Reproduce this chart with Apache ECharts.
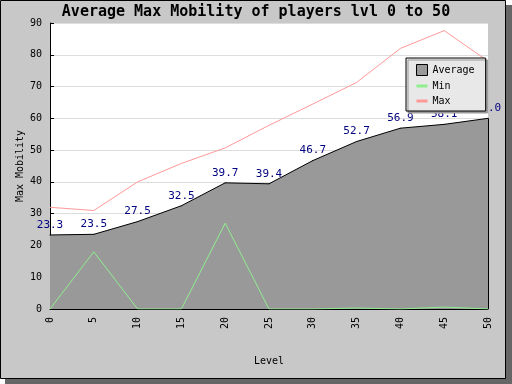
<!DOCTYPE html>
<html>
<head>
<meta charset="utf-8">
<script src="https://cdn.jsdelivr.net/npm/echarts@6/dist/echarts.min.js"></script>
<style>
html,body{margin:0;padding:0;background:#fff;}
#c{width:512px;height:384px;}
</style>
</head>
<body>
<div id="c"></div>
<script>
var levels = [0, 5, 10, 15, 20, 25, 30, 35, 40, 45, 50];
var averageVals = [23.3, 23.5, 27.5, 32.5, 39.7, 39.4, 46.7, 52.7, 56.9, 58.1, 60.0];
var minVals = [0, 18, 0, 0, 27, 0, 0, 0.3, 0, 0.6, 0];
var maxVals = [32, 31, 40, 45.8, 50.7, 57.8, 64.5, 71.3, 82, 87.6, 78];
var yTicks = [0, 10, 20, 30, 40, 50, 60, 70, 80, 90];

function pairs(vals) {
  return levels.map(function (l, i) { return [l, vals[i]]; });
}
var lastLevel = levels[levels.length - 1];
var lastAvg = averageVals[averageVals.length - 1];

var MONO = 'DejaVu Sans Mono';
var chart = echarts.init(document.getElementById('c'), null, {renderer: 'canvas'});
chart.setOption({
  animation: false,
  graphic: [
    {type: 'rect', shape: {x: 5, y: 5, width: 507, height: 379}, style: {fill: '#666666'}, z: -10, silent: true},
    {type: 'rect', shape: {x: 0.5, y: 0.5, width: 505, height: 378}, style: {fill: '#c8c8c8', stroke: '#000', lineWidth: 1}, z: -9, silent: true}
  ],
  title: {
    text: 'Average Max Mobility of players lvl 0 to 50',
    left: 'center',
    top: 5,
    padding: 0,
    textStyle: {fontFamily: MONO, fontWeight: 'bold', fontSize: 15, color: '#000'}
  },
  legend: {
    orient: 'vertical',
    left: 406,
    top: 58,
    padding: [6, 11, 5, 10],
    itemWidth: 11,
    itemHeight: 11,
    itemGap: 5,
    backgroundColor: '#e8e8e8',
    borderColor: '#000',
    borderWidth: 1,
    borderRadius: 0,
    shadowColor: '#999999',
    shadowOffsetX: 2,
    shadowOffsetY: 2,
    shadowBlur: 0,
    textStyle: {fontFamily: MONO, fontSize: 10, color: '#000'},
    data: [
      {name: 'Average', icon: 'rect', itemStyle: {color: '#999999', borderColor: '#000', borderWidth: 1}},
      {name: 'Min', icon: 'path://M0,0H11V3H0Z', itemStyle: {color: '#90ee90', borderWidth: 0}},
      {name: 'Max', icon: 'path://M0,0H11V3H0Z', itemStyle: {color: '#ff9999', borderWidth: 0}}
    ]
  },
  grid: {left: 50, right: 24, top: 23, bottom: 75, show: true, backgroundColor: '#fff', borderWidth: 0},
  xAxis: {
    type: 'value', min: 0, max: 50, interval: 5,
    name: 'Level', nameLocation: 'middle', nameGap: 47, nameMoveOverlap: false,
    nameTextStyle: {fontFamily: MONO, fontSize: 10, color: '#000'},
    axisLine: {show: true, onZero: false, lineStyle: {color: '#000', width: 1}},
    axisTick: {show: true, inside: true, length: 4, lineStyle: {color: '#000'}},
    axisLabel: {rotate: 90, margin: 8, fontFamily: MONO, fontSize: 10, color: '#000'},
    splitLine: {show: false}
  },
  yAxis: {
    type: 'value', min: 0, max: 90, interval: 10,
    name: 'Max Mobility', nameLocation: 'middle', nameGap: 25, nameMoveOverlap: false,
    nameTextStyle: {fontFamily: MONO, fontSize: 10, color: '#000'},
    axisLine: {show: true, lineStyle: {color: '#000', width: 1}},
    axisTick: {show: true, inside: true, length: 4, lineStyle: {color: '#000'}},
    axisLabel: {margin: 8, fontFamily: MONO, fontSize: 10, color: '#000',
      formatter: function (v) { return yTicks.indexOf(v) >= 0 ? String(v) : ''; }},
    splitLine: {show: true, lineStyle: {color: '#dddddd', width: 1}}
  },
  series: [
    {
      name: 'Average', type: 'line', data: pairs(averageVals),
      symbol: 'circle', symbolSize: 1,
      itemStyle: {color: '#000'},
      lineStyle: {color: '#000', width: 1},
      areaStyle: {color: '#999999', opacity: 1},
      label: {show: true, position: 'top', distance: 4, fontFamily: MONO, fontSize: 11, color: '#000080',
        formatter: function (p) { return p.value[1].toFixed(1); }},
      markLine: {
        silent: true, symbol: 'none', animation: false,
        label: {show: false},
        lineStyle: {color: '#000', width: 1, type: 'solid'},
        data: [[{coord: [lastLevel, 0]}, {coord: [lastLevel, lastAvg]}]]
      },
      emphasis: {disabled: true}
    },
    {
      name: 'Min', type: 'line', data: pairs(minVals), symbol: 'none',
      itemStyle: {color: '#90ee90'},
      lineStyle: {color: '#90ee90', width: 1},
      emphasis: {disabled: true}
    },
    {
      name: 'Max', type: 'line', data: pairs(maxVals), symbol: 'none',
      itemStyle: {color: '#ff9999'},
      lineStyle: {color: '#ff9999', width: 1},
      emphasis: {disabled: true}
    }
  ]
});
</script>
</body>
</html>
